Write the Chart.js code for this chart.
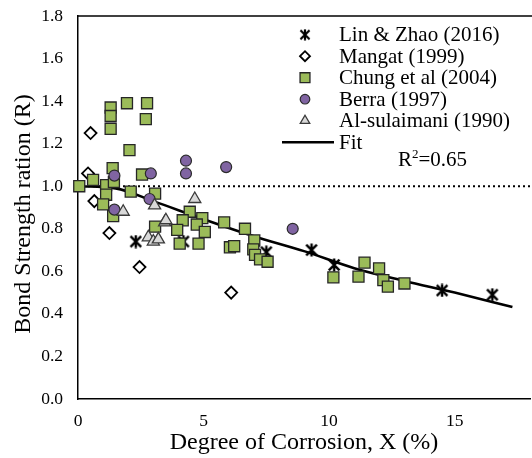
<!DOCTYPE html>
<html>
<head>
<meta charset="utf-8">
<script src="https://cdn.jsdelivr.net/npm/chart.js@4.4.0/dist/chart.umd.min.js"></script>
<style>
  body { margin: 0; background: #fff; }
  #wrap { width: 532px; height: 458px; }
</style>
</head>
<body>
<div id="wrap"><canvas id="bondChart"></canvas></div>
<script>
// bond strength ratio vs. degree of corrosion, several test series + fitted curve
const linX = [2.3, 4.2, 7.5, 9.3, 10.2, 14.5, 16.5];
const linY = [0.74, 0.74, 0.69, 0.70, 0.63, 0.51, 0.49];

const mangatX = [0.5, 0.4, 0.65, 1.25, 2.45, 6.1];
const mangatY = [1.25, 1.06, 0.93, 0.78, 0.62, 0.50];

const chungX = [1.3, 1.95, 2.75, 1.3, 2.7, 1.3, 2.05, 1.38, 2.55, 0.05, 0.6, 1.12, 1.43, 1.12, 1.0,
    2.1, 3.07, 1.4, 3.07, 4.45, 4.17, 4.95, 3.95, 4.73, 5.05, 5.82, 6.65, 4.05, 4.8, 6.05, 6.22,
    7.02, 6.98, 7.05, 7.25, 7.55, 10.17, 11.17, 11.41, 11.99, 12.16, 12.34, 13.0];
const chungY = [1.37, 1.39, 1.39, 1.33, 1.315, 1.27, 1.17, 1.085, 1.055, 1.0, 1.03, 1.005, 1.02, 0.96, 0.915,
    0.975, 0.965, 0.86, 0.81, 0.88, 0.84, 0.85, 0.795, 0.82, 0.785, 0.83, 0.80, 0.73, 0.73, 0.713, 0.718,
    0.745, 0.703, 0.677, 0.656, 0.645, 0.572, 0.575, 0.641, 0.614, 0.559, 0.528, 0.543];

const berraX = [1.45, 2.9, 4.3, 4.3, 5.9, 2.85, 1.45, 8.55];
const berraY = [1.05, 1.06, 1.12, 1.06, 1.09, 0.94, 0.89, 0.80];

const sulX = [1.8, 3.05, 4.65, 3.45, 2.8, 3.0, 3.2, 3.5];
const sulY = [0.88, 0.91, 0.94, 0.83, 0.76, 0.74, 0.75, 0.84];

const fitX = [0, 1.5, 3, 5, 7, 9, 11, 13, 15, 17.3];
const fitY = [1.0, 0.99, 0.93, 0.845, 0.765, 0.695, 0.615, 0.555, 0.50, 0.432];

const refX = [0, 18];
const refY = [1.0, 1.0];

const legendLabels = ['Lin & Zhao (2016)', 'Mangat (1999)', 'Chung et al (2004)', 'Berra (1997)', 'Al-sulaimani (1990)', 'Fit'];
const legendRadius = [5, 5, 7, 4.8, 5.5];

const serif = 'Liberation Serif';

function toPoints(xs, ys) {
    return xs.map((x, i) => ({ x: x, y: ys[i] }));
}

// asterisk marker: X with a vertical bar
function makeStar(size, lw) {
    const c = document.createElement('canvas');
    c.width = size;
    c.height = size;
    const g = c.getContext('2d');
    g.strokeStyle = '#000';
    g.lineWidth = lw;
    const m = size / 2, a = size * 0.12;
    g.beginPath();
    g.moveTo(a, a); g.lineTo(size - a, size - a);
    g.moveTo(size - a, a); g.lineTo(a, size - a);
    g.moveTo(m, 0.5); g.lineTo(m, size - 0.5);
    g.stroke();
    return c;
}
const starBig = makeStar(14, 2.4);
const starSmall = makeStar(12, 2.2);

const datasets = [
    {
        label: legendLabels[4], data: toPoints(sulX, sulY), order: 1,
        pointStyle: 'triangle', pointRadius: 7, backgroundColor: '#D9D9D9', borderColor: '#3a3a3a', borderWidth: 1.3
    },
    {
        label: legendLabels[3], data: toPoints(berraX, berraY), order: 2,
        pointStyle: 'circle', pointRadius: 5.5, backgroundColor: '#8064A2', borderColor: '#2b2b2b', borderWidth: 1.2
    },
    {
        label: legendLabels[2], data: toPoints(chungX, chungY), order: 3,
        pointStyle: 'rect', pointRadius: 7.8, backgroundColor: '#9BBB59', borderColor: '#262626', borderWidth: 1.3
    },
    {
        label: legendLabels[1], data: toPoints(mangatX, mangatY), order: 4,
        pointStyle: 'rectRot', pointRadius: 6, backgroundColor: '#ffffff', borderColor: '#000', borderWidth: 1.8
    },
    {
        label: legendLabels[0], data: toPoints(linX, linY), order: 5,
        pointStyle: starBig, pointRadius: 7, backgroundColor: '#000', borderColor: '#000', borderWidth: 0
    },
    {
        label: legendLabels[5], data: toPoints(fitX, fitY), order: 6, showLine: true,
        pointRadius: 0, borderColor: '#000', borderWidth: 2.6, cubicInterpolationMode: 'monotone'
    },
    {
        label: 'ref', data: toPoints(refX, refY), order: 7, showLine: true,
        pointRadius: 0, borderColor: '#000', borderWidth: 2, borderDash: [2, 3]
    }
];
datasets.forEach(d => { d.clip = false; d.pointHoverRadius = d.pointRadius; });

const decorPlugin = {
    id: 'decor',
    afterDraw(chart) {
        const ctx = chart.ctx;
        const area = chart.chartArea;
        ctx.save();

        // top frame line
        ctx.strokeStyle = '#000';
        ctx.lineWidth = 1.5;
        ctx.beginPath();
        ctx.moveTo(area.left, area.top);
        ctx.lineTo(chart.width, area.top);
        ctx.stroke();

        // y axis title
        ctx.save();
        ctx.translate(24, 214);
        ctx.rotate(-Math.PI / 2);
        ctx.font = '24px "' + serif + '"';
        ctx.fillStyle = '#000';
        ctx.textAlign = 'center';
        ctx.textBaseline = 'middle';
        ctx.fillText('Bond Strength ration (R)', 0, 0);
        ctx.restore();

        // legend
        ctx.font = '21px "' + serif + '"';
        ctx.textAlign = 'left';
        ctx.textBaseline = 'alphabetic';
        legendLabels.forEach((label, i) => {
            const base = 41 + i * 21.5;
            const cy = base - 6.3;
            ctx.fillStyle = '#000';
            ctx.fillText(label, 339, base);
            const ds = chart.data.datasets.find(d => d.label === label);
            if (i === 5) {
                ctx.strokeStyle = '#000';
                ctx.lineWidth = 2.6;
                ctx.beginPath();
                ctx.moveTo(282, cy);
                ctx.lineTo(334, cy);
                ctx.stroke();
                return;
            }
            ctx.fillStyle = ds.backgroundColor;
            ctx.strokeStyle = ds.borderColor;
            ctx.lineWidth = ds.borderWidth;
            Chart.helpers.drawPoint(ctx, {
                pointStyle: i === 0 ? starSmall : ds.pointStyle,
                radius: legendRadius[i],
                rotation: 0,
                borderWidth: ds.borderWidth
            }, 305, cy);
        });

        // R^2 note
        ctx.fillStyle = '#000';
        ctx.font = '21px "' + serif + '"';
        ctx.fillText('R', 398, 166);
        let w = ctx.measureText('R').width;
        ctx.font = '13px "' + serif + '"';
        ctx.fillText('2', 398 + w, 158);
        w += ctx.measureText('2').width;
        ctx.font = '21px "' + serif + '"';
        ctx.fillText('=0.65', 398 + w, 166);

        ctx.restore();
    }
};

const ctx = document.getElementById('bondChart').getContext('2d');
const bondChart = new Chart(ctx, {
    type: 'scatter',
    data: { datasets: datasets },
    options: {
        responsive: true,
        maintainAspectRatio: false,
        animation: false,
        // no extra room for marker overflow, markers may spill over the axes
        layout: { autoPadding: false, padding: { top: 16, right: 2, left: 0, bottom: 0 } },
        plugins: { legend: { display: false }, tooltip: { enabled: false } },
        scales: {
            x: {
                type: 'linear',
                min: 0,
                max: 18,
                grid: { display: false, drawTicks: false },
                border: { display: true, color: '#000', width: 1.5 },
                ticks: {
                    stepSize: 5,
                    includeBounds: false,
                    padding: 12,
                    color: '#000',
                    font: { family: serif, size: 17.5 }
                },
                title: {
                    display: true,
                    text: 'Degree of Corrosion, X (%)',
                    color: '#000',
                    font: { family: serif, size: 24 },
                    padding: { top: 0, bottom: 1 }
                },
                afterFit(scale) {
                    scale.height = 59;
                    scale.paddingLeft = 0;
                    scale.paddingRight = 0;
                }
            },
            y: {
                type: 'linear',
                min: 0,
                max: 1.8,
                grid: { display: false, drawTicks: false },
                border: { display: true, color: '#000', width: 1.5 },
                ticks: {
                    stepSize: 0.2,
                    padding: 15,
                    color: '#000',
                    font: { family: serif, size: 17.5 },
                    callback: v => v.toFixed(1)
                },
                afterFit(scale) {
                    scale.width = 78;
                    scale.paddingTop = 0;
                    scale.paddingBottom = 0;
                }
            }
        }
    },
    plugins: [decorPlugin]
});
</script>
</body>
</html>
